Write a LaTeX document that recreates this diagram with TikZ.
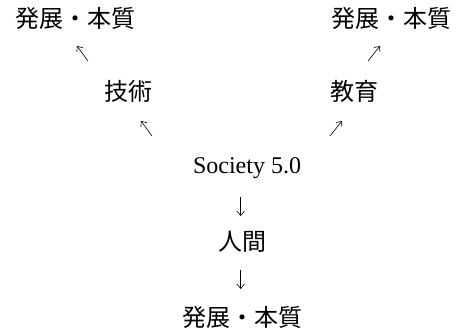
\documentclass[tikz,border=0pt]{standalone}
\usepackage{fontspec}
\setmainfont{Liberation Serif}
\newfontfamily\jpfont{Noto Sans CJK JP}
\usetikzlibrary{arrows.meta}
\begin{document}
\begin{tikzpicture}[x=1pt,y=-1pt,
  lbl/.style={inner sep=0pt,anchor=center,font=\fontsize{24}{28}\selectfont\jpfont},
  lat/.style={inner sep=0pt,anchor=center,font=\fontsize{24}{28}\selectfont},
  arr/.style={line width=0.6pt,-{Straight Barb[length=4.5pt,width=7.5pt]}}]
\useasboundingbox (0,0) rectangle (460,331);
\node[lbl] (devL) at (75.5,18) {発展・本質};
\node[lbl] (devR) at (391,18) {発展・本質};
\node[lbl] (tech) at (128,91) {技術};
\node[lbl] (edu) at (354,91) {教育};
\node[lat] (soc) at (247,168) {Society 5.0};
\node[lbl] (hum) at (242,242) {人間};
\node[lbl] (devB) at (242,317) {発展・本質};
% arrows
\coordinate (a1s) at (88,61); \coordinate (a1e) at (77,46);
\coordinate (a2s) at (152,136); \coordinate (a2e) at (141,121);
\coordinate (a3s) at (368,61); \coordinate (a3e) at (380,46);
\coordinate (a4s) at (330,136); \coordinate (a4e) at (342,121);
\coordinate (a5s) at (240.7,197); \coordinate (a5e) at (240.7,216);
\coordinate (a6s) at (240.7,270); \coordinate (a6e) at (240.7,289);
\draw[arr] (a1s) -- (a1e);
\draw[arr] (a2s) -- (a2e);
\draw[arr] (a3s) -- (a3e);
\draw[arr] (a4s) -- (a4e);
\draw[arr] (a5s) -- (a5e);
\draw[arr] (a6s) -- (a6e);
\end{tikzpicture}
\end{document}
